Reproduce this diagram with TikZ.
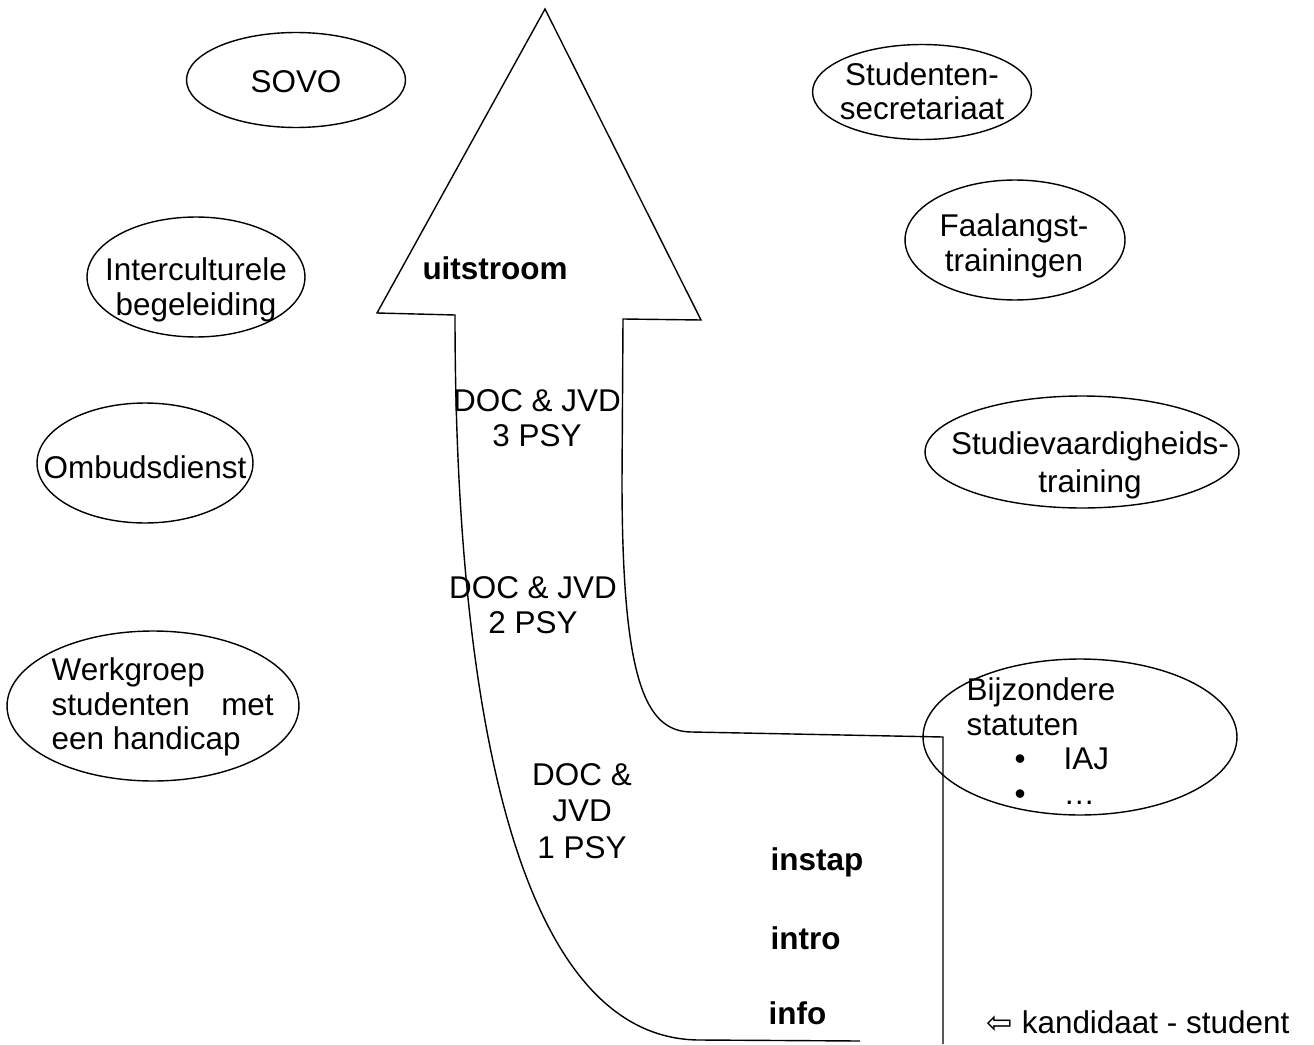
\documentclass[tikz,border=0pt]{standalone}
\usepackage{fontspec}
\setmainfont{Liberation Sans}
\newfontfamily\pijlfont{DejaVu Sans}
\usetikzlibrary{shapes.geometric}
\begin{document}
\begin{tikzpicture}[x=0.02cm,y=-0.02cm,line width=0.8pt,
   ovaal/.style={draw,ellipse,inner sep=0pt},
   tekst/.style={inner sep=0pt,align=center,font=\fontsize{17.9}{19.6}\selectfont},
   vet/.style={inner sep=0pt,anchor=west,font=\fontsize{17.9}{19.6}\selectfont\bfseries}]
   \useasboundingbox (0,0) rectangle (1314,1044);
   % de pijl
   \draw (943,1044) -- (943,737) -- (692,732)
      .. controls (645,732) and (622,680) .. (622,480) -- (623,319)
      -- (701,320) -- (545,9) -- (377,313) -- (455,315)
      .. controls (455,700) and (515,1040) .. (700,1040) -- (860,1041);
   \node[vet,anchor=center] (uit) at (495,268) {uitstroom};
   \node[tekst] (jaar3) at (537,418) {DOC \& JVD\\3 PSY};
   \node[tekst] (jaar2) at (533,605) {DOC \& JVD\\2 PSY};
   \node[tekst,font=\fontsize{17.9}{20.8}\selectfont] (jaar1) at (582,811) {DOC \&\\JVD\\1 PSY};
   \node[vet] (instap) at (770,862) {instap};
   \node[vet] (intro) at (770,938) {intro};
   \node[vet] (info) at (768,1013) {info};
   \node[tekst,anchor=west] (kand) at (986,1022) {{\pijlfont ⇦} kandidaat - student};
   % links
   \node[ovaal,minimum width=4.38cm,minimum height=1.9cm] (sovo) at (296,80) {};
   \node[tekst] (sovotxt) at (296,82) {SOVO};
   \node[ovaal,minimum width=4.36cm,minimum height=2.4cm] (inter) at (196,277) {};
   \node[tekst] (intertxt) at (196,290) {Interculturele\\begeleiding};
   \node[ovaal,minimum width=4.32cm,minimum height=2.4cm] (ombud) at (145,463) {};
   \node[tekst] (ombudtxt) at (145,467) {Ombudsdienst};
   \node[ovaal,minimum width=5.84cm,minimum height=3cm] (werk) at (153,706) {};
   \node[tekst,align=left,anchor=west] (werktxt) at (51,707)
      {Werkgroep\\studenten\hspace{1em}met\\een handicap};
   % rechts
   \node[ovaal,minimum width=4.38cm,minimum height=1.9cm] (secr) at (922,92) {};
   \node[tekst] (secrtxt) at (922,91) {Studenten-\\secretariaat};
   \node[ovaal,minimum width=4.4cm,minimum height=2.4cm] (faal) at (1015,240) {};
   \node[tekst] (faaltxt) at (1014,246) {Faalangst-\\trainingen};
   \node[ovaal,minimum width=6.28cm,minimum height=2.24cm] (vaard) at (1082,452) {};
   \node[tekst,font=\fontsize{17.9}{21.5}\selectfont] (vaardtxt) at (1090,465) {Studievaardigheids-\\training};
   \node[ovaal,minimum width=6.28cm,minimum height=3.12cm] (statuut) at (1080,737) {};
   \node[tekst,align=left,anchor=west] (statuuttxt) at (966,741)
      {Bijzondere\\statuten\\\hspace*{0.96cm}\textbullet\hspace{0.76cm}IAJ\\\hspace*{0.96cm}\textbullet\hspace{0.76cm}…};
\end{tikzpicture}
\end{document}
